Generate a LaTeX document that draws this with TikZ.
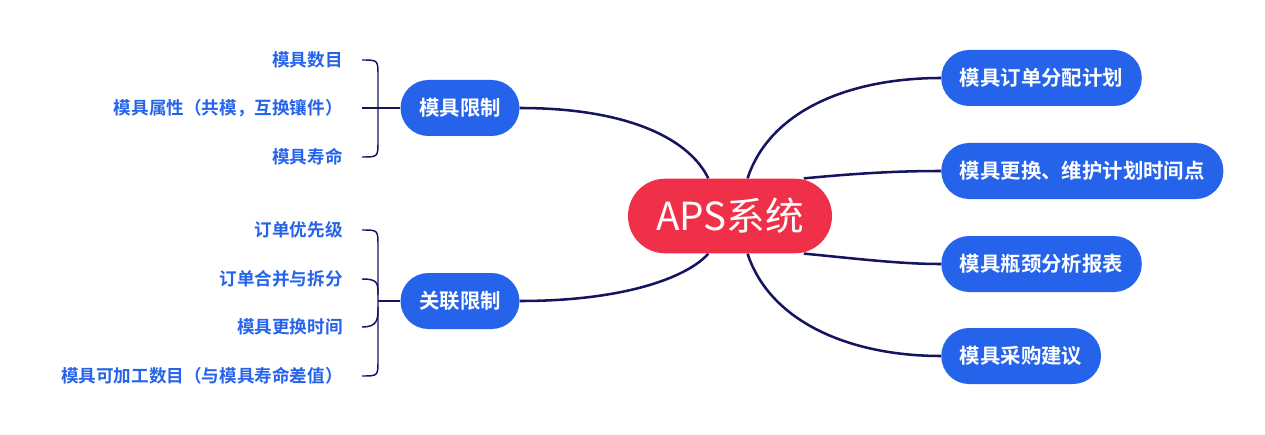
\documentclass[tikz,border=0pt]{standalone}
\usepackage{fontspec}
\setmainfont{Noto Sans CJK SC}[BoldFont={* Bold}]
\usepackage{tikz}
\usetikzlibrary{calc,backgrounds}
\definecolor{nodeblue}{HTML}{2563EB}
\definecolor{apsred}{HTML}{F03048}
\definecolor{linenavy}{HTML}{14145F}

\begin{document}
\begin{tikzpicture}[
    x=0.75pt, y=-0.75pt,
    root/.style={rectangle, fill=apsred, text=white, rounded corners=27.9pt, minimum width=153pt, minimum height=56pt, inner sep=0pt, font=\fontsize{29}{34}\selectfont},
    topic/.style={rectangle, fill=nodeblue, text=white, rounded corners=20.9pt, minimum height=42pt, inner xsep=14pt, inner ysep=0pt, font=\bfseries\fontsize{15.3}{18}\selectfont},
    leaf/.style={anchor=east, text=nodeblue, inner sep=0pt, font=\bfseries\fontsize{13.2}{16}\selectfont},
    branch/.style={draw=linenavy, line width=1.9pt},
    brace/.style={draw=linenavy, line width=1.1pt}
]
    \useasboundingbox (0,0) rectangle (1265,435);

    \node[root] (aps) at (730,216) {APS系统};

    \node[topic] (limit) at (460,108) {模具限制};
    \node[topic] (link) at (460,301) {关联限制};

    \node[topic, anchor=west] (plan) at (941,78) {模具订单分配计划};
    \node[topic, anchor=west] (swap) at (941,171) {模具更换、维护计划时间点};
    \node[topic, anchor=west] (report) at (941,264) {模具瓶颈分析报表};
    \node[topic, anchor=west] (buy) at (941,356) {模具采购建议};

    \node[leaf] (cnt) at (343,60) {模具数目};
    \node[leaf] (attr) at (343,108) {模具属性（共模，互换镶件）};
    \node[leaf] (life) at (343,157) {模具寿命};

    \node[leaf] (prio) at (343,230) {订单优先级};
    \node[leaf] (merge) at (343,279) {订单合并与拆分};
    \node[leaf] (chg) at (343,327) {模具更换时间};
    \node[leaf] (cap) at (343,376) {模具可加工数目（与模具寿命差值）};

    \begin{scope}[on background layer]
        \draw[branch] (limit.east) .. controls (630,108) and (690,140) .. (aps.120);
        \draw[branch] (link.east) .. controls (630,301) and (690,275) .. (aps.240);
        \draw[branch] (aps.65) .. controls (770,110) and (850,78) .. (plan.west);
        \draw[branch] (aps.27) .. controls (860,173) and (900,171) .. (swap.west);
        \draw[branch] (aps.-27) .. controls (860,259) and (900,264) .. (report.west);
        \draw[branch] (aps.-65) .. controls (770,322) and (850,356) .. (buy.west);
    \end{scope}

    \draw[brace] ($(cnt.east)+(19,0)$) .. controls +(16,0) and +(0,-16) .. (378,76)
        -- (378,141) .. controls +(0,16) and +(16,0) .. ($(life.east)+(19,0)$);
    \draw[brace] ($(attr.east)+(19,0)$) -- (limit.west);

    \draw[brace] ($(prio.east)+(19,0)$) .. controls +(16,0) and +(0,-16) .. (378,246)
        -- (378,360) .. controls +(0,16) and +(16,0) .. ($(cap.east)+(19,0)$);
    \draw[brace] ($(merge.east)+(19,0)$) .. controls +(16,0) and +(0,-12) .. (378,295);
    \draw[brace] ($(chg.east)+(19,0)$) .. controls +(16,0) and +(0,12) .. (378,307);
    \draw[brace] (link.west) -- ++(-22,0);
\end{tikzpicture}
\end{document}
